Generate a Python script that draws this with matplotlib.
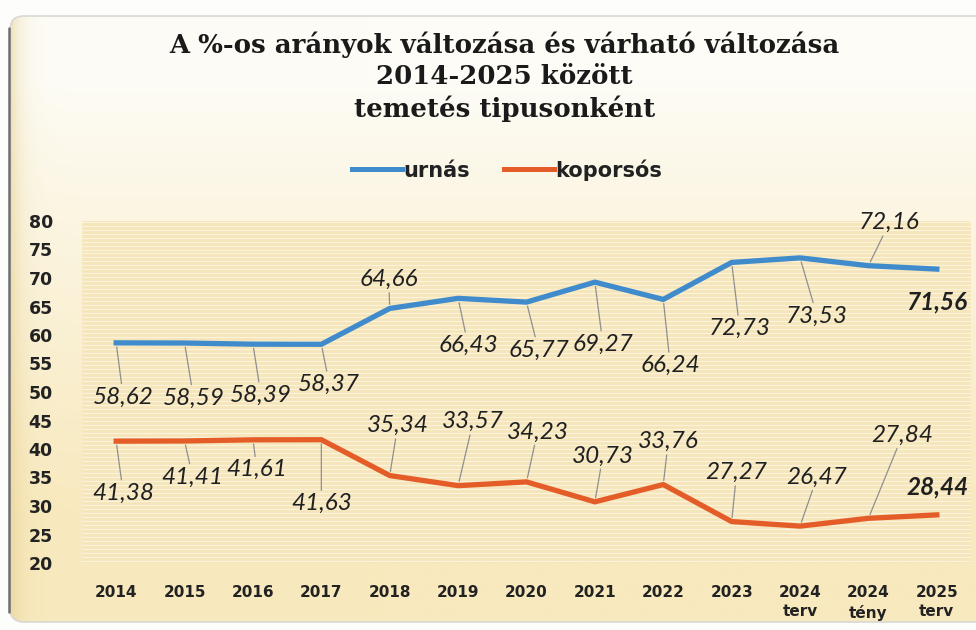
import numpy as np
import matplotlib.pyplot as plt
from matplotlib.patches import FancyBboxPatch
from matplotlib.lines import Line2D

categories = ['2014', '2015', '2016', '2017', '2018', '2019', '2020', '2021',
              '2022', '2023', '2024\nterv', '2024\ntény', '2025\nterv']
urnas = [58.62, 58.59, 58.39, 58.37, 64.66, 66.43, 65.77, 69.27, 66.24,
         72.73, 73.53, 72.16, 71.56]
koporsos = [41.38, 41.41, 41.61, 41.63, 35.34, 33.57, 34.23, 30.73, 33.76,
            27.27, 26.47, 27.84, 28.44]
y_ticks = [20, 25, 30, 35, 40, 45, 50, 55, 60, 65, 70, 75, 80]
series_names = ['urnás', 'koporsós']

# label offsets from the point, in pixels (callout positions)
urnas_off = [(7, -54), (9, -55), (8, -51), (8, -40), (-1, 29), (10, -47), (12, -48),
             (8, -62), (7, -66), (8, -66), (17, -58), (21, 43), (0, -33)]
kop_off = [(7, -52), (8, -36), (4, -30), (0, -64), (8, 50), (15, 64), (11, 50),
           (8, 46), (5, 43), (5, 49), (17, 49), (34, 83), (1, 28)]

blue = '#3f8bcb'
orange = '#e45d28'

fig = plt.figure(figsize=(9.76, 6.3), dpi=100)
fig.patch.set_facecolor('#fdfdfb')

# background panel with gradient
bg = fig.add_axes([0, 0, 1, 1])
bg.set_xlim(0, 976)
bg.set_ylim(630, 0)
bg.axis('off')
H, W = 200, 400
t = np.linspace(0, 1, H)[:, None, None]
top = np.array([253, 252, 246]) / 255
bottom = np.array([248, 233, 190]) / 255
img = top + (bottom - top) * np.clip(t * 1.4 - 0.15, 0, 1) ** 0.9
xs = np.linspace(10, 990, W)[None, :, None]
d = 0.55 * np.exp(-(xs - 10) / 10.0)
tan = np.array([228, 205, 140]) / 255
img = img * (1 - d) + tan * d
panel = FancyBboxPatch((10, 16), 990, 606, boxstyle='round,pad=0,rounding_size=14',
                       fc='none', ec='#d8d8d4', lw=1.2)
bg.add_patch(panel)
im = bg.imshow(img, extent=[10, 1000, 622, 16], aspect='auto', zorder=0)
im.set_clip_path(panel)
bg.plot([9, 9], [28, 612], color='#6e6e6e', lw=1.8, solid_capstyle='round')

ax = fig.add_axes([82 / 976, 1 - 563 / 630, 889 / 976, 342 / 630])
ax.set_facecolor('#f5e5b9')
for yy in np.arange(20.4, 80, 0.7):
    ax.axhline(yy, color='#fbf3dc', lw=0.9, zorder=0)

x = np.arange(len(categories))
ax.plot(x, urnas, color=blue, lw=3.8, solid_joinstyle='miter', zorder=3)
ax.plot(x, koporsos, color=orange, lw=3.8, solid_joinstyle='miter', zorder=3)

def fmt(v):
    return f'{v:.2f}'.replace('.', ',')

for vals, offs in [(urnas, urnas_off), (koporsos, kop_off)]:
    for i, (v, (dx, dy)) in enumerate(zip(vals, offs)):
        last = i == len(vals) - 1
        ax.annotate(fmt(v), xy=(i, v), xytext=(dx, dy), textcoords='offset pixels',
                    ha='center', va='center', fontsize=17.5, style='italic',
                    fontweight='bold' if last else 'normal', family='Lato',
                    color='#202020', zorder=4,
                    arrowprops=None if last else dict(arrowstyle='-', color='#8f8f8f',
                                                      lw=0.9, shrinkA=0, shrinkB=3))

ax.set_xlim(-0.5, len(categories) - 0.5)
ax.set_ylim(20, 80)
ax.set_yticks(y_ticks)
ax.set_xticks(x, categories)
for lab in ax.get_xticklabels():
    lab.set_linespacing(1.35)
ax.tick_params(axis='x', length=0, pad=16, labelsize=11, labelcolor='#222222')
ax.tick_params(axis='y', length=0, pad=21, labelsize=12.5, labelcolor='#222222')
for lab in ax.get_xticklabels() + ax.get_yticklabels():
    lab.set_fontweight('bold')
    lab.set_family('DejaVu Sans')
for lab in ax.get_xticklabels():
    lab.set_va('top')
for s in ax.spines.values():
    s.set_visible(False)

fig.text(0.517, 1 - 32 / 630, 'A %-os arányok változása és várható változása\n2014-2025 között\ntemetés tipusonként',
         ha='center', va='top', fontsize=18.7, fontweight='bold', family='DejaVu Serif',
         linespacing=1.3, color='#1a1a1a')

handles = [Line2D([], [], color=blue, lw=3.6), Line2D([], [], color=orange, lw=3.6)]
fig.legend(handles, series_names, loc='center', bbox_to_anchor=(507 / 976, 1 - 170 / 630),
           ncol=2, frameon=False, handlelength=2.4, handletextpad=0.1,
           columnspacing=1.6, prop={'family': 'DejaVu Sans', 'size': 15, 'weight': 'bold'},
           labelcolor='#222222')

fig.savefig('out.png', dpi=100)
